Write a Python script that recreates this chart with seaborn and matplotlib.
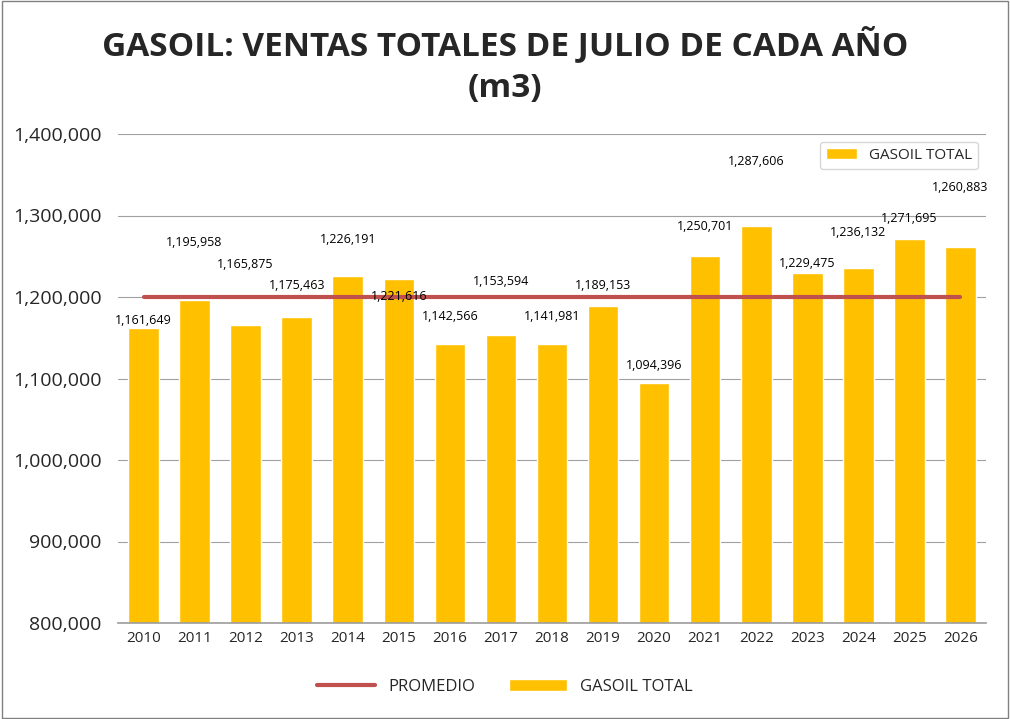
import matplotlib
matplotlib.use("Agg")
import matplotlib.pyplot as plt
import seaborn as sns
import pandas as pd
from matplotlib.ticker import FuncFormatter
from matplotlib.patches import Rectangle

years = [str(y) for y in range(2010, 2027)]
ventas = [1161649, 1195958, 1165875, 1175463, 1226191, 1221616, 1142566, 1153594,
          1141981, 1189153, 1094396, 1250701, 1287606, 1229475, 1236132, 1271695, 1260883]
promedio = [1200000] * len(years)
label_offsets = [10000, 71500, 74600, 39000, 44000, -21600, 34000, 65000, 34700,
                 25500, 21000, 36400, 79000, 12000, 43600, 25000, 73000]

sns.set_theme(style="white")
plt.rcParams['font.family'] = ['Open Sans', 'DejaVu Sans']

df = pd.DataFrame({"year": years, "ventas": ventas, "promedio": promedio})
fig = plt.figure(figsize=(10.10, 7.19), dpi=100)
ax = fig.add_axes([118/1010, 1-623/719, (986-118)/1010, (623-134)/719])

sns.barplot(data=df, x="year", y="ventas", color="#FFC000", width=0.6, ax=ax,
            saturation=1, label="GASOIL TOTAL", zorder=2)
ax.plot(range(len(years)), promedio, color="#C0504D", lw=3, label="PROMEDIO", zorder=3)

for i, (v, o) in enumerate(zip(ventas, label_offsets)):
    ax.text(i, v + o, f"{v:,}", ha="center", va="center", fontsize=9, color="black", zorder=4)

ax.set_ylim(800000, 1400000)
ax.set_yticks(range(800000, 1400001, 100000))
ax.yaxis.set_major_formatter(FuncFormatter(lambda v, p: f"{int(v):,}"))
ax.tick_params(axis="y", labelsize=14, length=0, pad=12)
ax.tick_params(axis="x", labelsize=11, length=0, pad=6)
ax.grid(axis="y", color="#A0A0A0", lw=0.8, zorder=0)
ax.set_axisbelow(True)
ax.set_xlabel("")
ax.set_ylabel("")
for s in ["top", "right", "left"]:
    ax.spines[s].set_visible(False)
ax.spines["bottom"].set_color("#A0A0A0")
ax.set_xlim(-0.5, len(years) - 0.5)

fig.text(0.5, 1-45/719, "GASOIL: VENTAS TOTALES DE JULIO DE CADA AÑO", ha="center", va="center",
         fontsize=24, fontweight="bold")
fig.text(0.5, 1-88/719, "(m3)", ha="center", va="center", fontsize=24, fontweight="bold")

h, l = ax.get_legend_handles_labels()
fig.legend(h, l, loc="center", bbox_to_anchor=(0.5, 1-687/719), ncol=2, frameon=False,
           fontsize=12, handlelength=3.5, columnspacing=2)

fig.patches.append(Rectangle((0.002, 0.002), 0.996, 0.996, transform=fig.transFigure,
                             fill=False, edgecolor="#808080", lw=1))
fig.savefig("out.png", dpi=100)
